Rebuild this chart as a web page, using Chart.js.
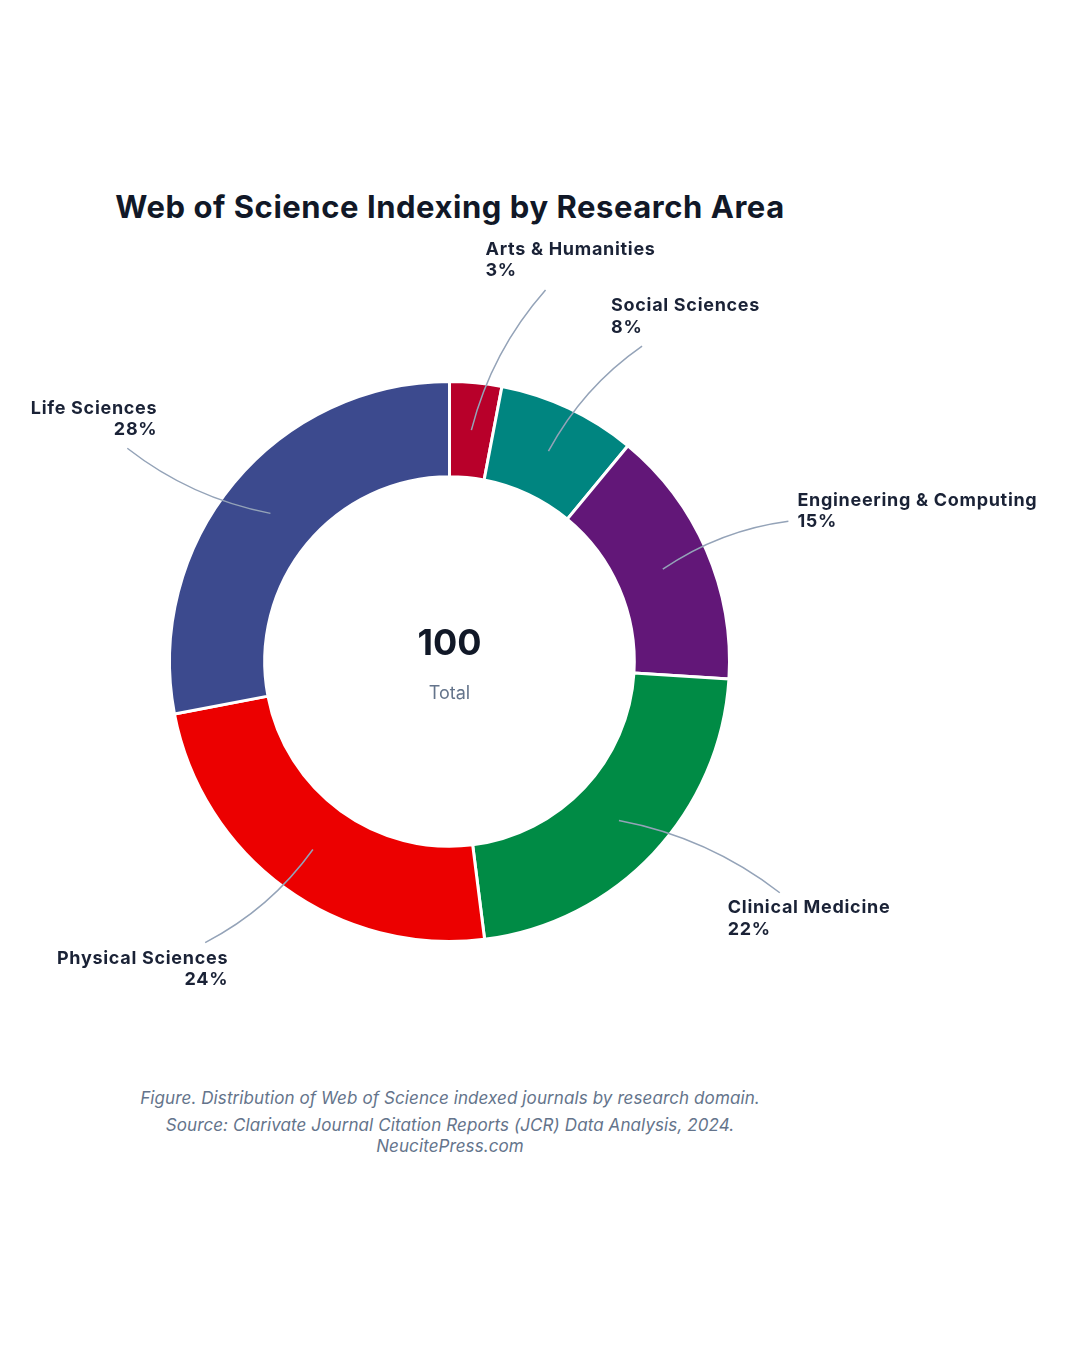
<!DOCTYPE html>
<html>
<head>
<meta charset="utf-8">
<title>Web of Science Indexing by Research Area</title>
<script src="https://cdn.jsdelivr.net/npm/chart.js@4.4.1/dist/chart.umd.min.js"></script>
<style>
  html, body { margin: 0; padding: 0; background: #fff; }
  body { width: 1080px; height: 1350px; position: relative; font-family: Inter, "Noto Sans", sans-serif; }
  #title { position: absolute; left: 0; top: 188px; width: 900px; text-align: center;
           font-weight: 700; font-size: 31px; color: #111827; letter-spacing: 0.55px; }
  #wrap { position: absolute; left: 0; top: 0; width: 1080px; height: 1060px; }
  .cap { position: absolute; left: 0; width: 900px; text-align: center;
         font-style: italic; font-size: 17px; color: #64748b; letter-spacing: 0.1px; }
</style>
</head>
<body>
<div id="title">Web of Science Indexing by Research Area</div>
<div id="wrap"><canvas id="chart"></canvas></div>
<div class="cap" style="top:1088px">Figure. Distribution of Web of Science indexed journals by research domain.</div>
<div class="cap" style="top:1115px">Source: Clarivate Journal Citation Reports (JCR) Data Analysis, 2024.</div>
<div class="cap" style="top:1136px">NeucitePress.com</div>

<script>
const categories = ["Arts & Humanities", "Social Sciences", "Engineering & Computing",
                    "Clinical Medicine", "Physical Sciences", "Life Sciences"];
const shares = [3, 8, 15, 22, 24, 28];
const totalLabel = "100";

const sliceColors = ["#b8002a", "#008580", "#621778", "#008b45", "#ec0000", "#3c4a8e"];

// where each callout ends (angle from top, clockwise; reach as multiple of outer radius)
// and where its text sits relative to that end
const labelLayout = [
  { angle: 14.5,  reach: 1.37, align: "left",  dx: -60, dy: -41 },
  { angle: 31.4,  reach: 1.32, align: "left",  dx: -31, dy: -40 },
  { angle: 67.5,  reach: 1.31, align: "left",  dx: 9,   dy: -21 },
  { angle: 125,   reach: 1.44, align: "left",  dx: -52, dy: 15 },
  { angle: 221,   reach: 1.33, align: "right", dx: 23,  dy: 16 },
  { angle: 303.5, reach: 1.38, align: "right", dx: 30,  dy: -40 }
];

const calloutPlugin = {
  id: "callouts",
  afterDatasetsDraw(chart) {
    const ctx = chart.ctx;
    const arcs = chart.getDatasetMeta(0).data;
    ctx.save();
    arcs.forEach((arc, i) => {
      const lay = labelLayout[i];
      const start = arc.getCenterPoint();
      const a = lay.angle * Math.PI / 180;
      const r = arc.outerRadius * lay.reach;
      const end = { x: arc.x + r * Math.sin(a), y: arc.y - r * Math.cos(a) };
      const mx = (start.x + end.x) / 2, my = (start.y + end.y) / 2;
      const k = 0.12;
      const cx = mx + k * (end.y - start.y), cy = my - k * (end.x - start.x);

      ctx.beginPath();
      ctx.moveTo(start.x, start.y);
      ctx.quadraticCurveTo(cx, cy, end.x, end.y);
      ctx.strokeStyle = "#94a3b8";
      ctx.lineWidth = 1.5;
      ctx.stroke();

      ctx.fillStyle = "#1a2236";
      ctx.font = "700 18px Inter, 'Noto Sans', sans-serif";
      ctx.letterSpacing = "0.7px";
      ctx.textAlign = lay.align;
      ctx.textBaseline = "middle";
      ctx.fillText(categories[i], end.x + lay.dx, end.y + lay.dy);
      ctx.fillText(shares[i] + "%", end.x + lay.dx, end.y + lay.dy + 21.5);
    });

    // centre total
    const first = arcs[0];
    ctx.letterSpacing = "0px";
    ctx.textAlign = "center";
    ctx.textBaseline = "middle";
    ctx.fillStyle = "#111827";
    ctx.font = "700 36px Inter, 'Noto Sans', sans-serif";
    ctx.fillText(totalLabel, first.x, first.y - 17);
    ctx.fillStyle = "#64748b";
    ctx.font = "400 18px Inter, 'Noto Sans', sans-serif";
    ctx.fillText("Total", first.x, first.y + 32);
    ctx.restore();
  }
};

new Chart(document.getElementById("chart"), {
  type: "doughnut",
  data: {
    labels: categories,
    datasets: [{
      data: shares,
      backgroundColor: sliceColors,
      borderColor: "#ffffff",
      borderWidth: 3,
      hoverOffset: 0
    }]
  },
  options: {
    responsive: true,
    maintainAspectRatio: false,
    animation: false,
    cutout: "66%",
    layout: { padding: { left: 168, right: 349, top: 380, bottom: 117 } },
    plugins: {
      legend: { display: false },
      tooltip: { enabled: false },
      title: { display: false }
    }
  },
  plugins: [calloutPlugin]
});
</script>
</body>
</html>
